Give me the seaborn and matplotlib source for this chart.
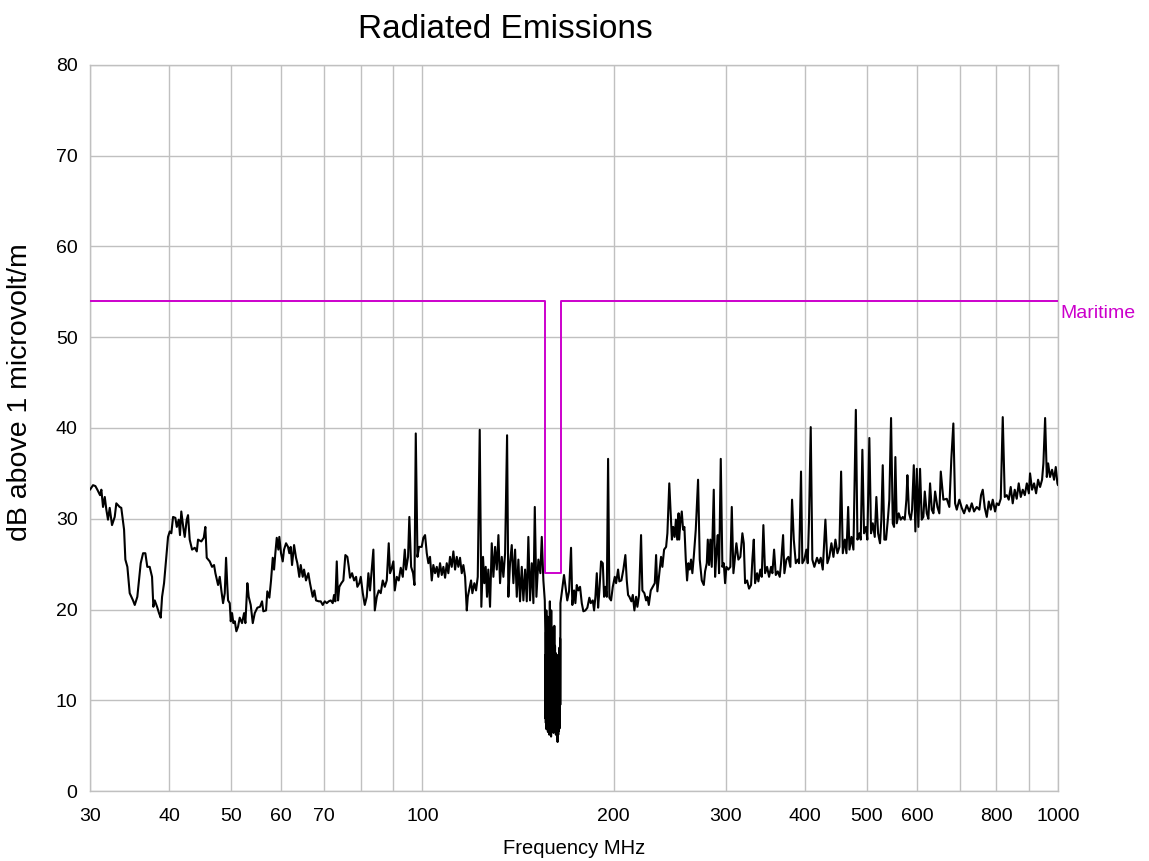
import numpy as np
import pandas as pd
import matplotlib
matplotlib.use("Agg")
import matplotlib.pyplot as plt
import seaborn as sns
from matplotlib.ticker import FixedLocator, NullFormatter, FixedFormatter

# ---------------- data ----------------
# 30 - 100 MHz
freq_low = [30.0, 30.33, 30.59, 30.81, 31.11, 31.26, 31.45, 31.65, 31.83, 32.02, 32.22, 32.49,
            32.81, 33.00, 33.40, 33.60, 33.94, 34.10, 34.35, 34.64, 35.06, 35.28, 35.61, 35.79,
            36.05, 36.36, 36.66, 36.92, 37.24, 37.56, 37.74, 37.93, 38.25, 38.52, 38.76, 38.95,
            39.23, 39.56, 39.80, 40.05, 40.28, 40.53, 40.87, 41.08, 41.37, 41.56, 41.76, 42.07,
            42.28, 42.59, 42.79, 43.05, 43.42, 43.85, 44.17, 44.37, 44.90, 45.30, 45.56, 45.79,
            46.29, 46.68, 47.02, 47.25, 47.71, 48.00, 48.28, 48.58, 48.88, 49.11, 49.34, 49.47,
            49.77, 49.95, 50.19, 50.43, 50.69, 50.98, 51.29, 51.60, 52.04, 52.42, 52.67, 53.05,
            53.31, 53.70, 54.10, 54.49, 55.01, 55.54, 55.95, 56.21, 56.77, 57.03, 57.45, 57.80,
            58.16, 58.44, 58.71, 59.01, 59.35, 59.56, 59.93, 60.30, 60.59, 61.03, 61.47, 61.76,
            62.07, 62.37, 62.83, 63.28, 63.58, 64.03, 64.36, 64.83, 65.14, 65.61, 66.16, 66.56,
            67.22, 67.62, 68.04, 68.70, 69.20, 69.71, 70.22, 70.73, 71.24, 71.75, 72.27, 72.62,
            72.96, 73.34, 73.68, 74.03, 74.57, 75.11, 75.66, 76.21, 76.60, 76.95, 77.52, 78.09,
            78.65, 79.02, 79.59, 80.00, 80.59, 81.17, 81.76, 82.24, 82.73, 83.25, 83.74, 84.17,
            84.78, 85.39, 86.00, 86.63, 87.27, 87.90, 88.53, 88.94, 89.37, 90.03, 90.49, 91.15,
            91.80, 92.47, 93.15, 93.83, 94.27, 94.95, 95.39, 96.01, 96.69, 97.18, 97.64, 98.24,
            98.80, 99.77]
level_low = [33.2, 33.7, 33.6, 33.2, 32.6, 33.2, 31.3, 32.4, 31.0, 29.9, 31.2, 29.3,
             30.2, 31.7, 31.3, 31.2, 28.8, 25.5, 24.7, 21.8, 21.0, 20.5, 21.4, 22.9,
             25.1, 26.2, 26.2, 24.7, 24.7, 23.6, 20.3, 21.0, 20.3, 19.6, 19.1, 21.4,
             22.9, 25.8, 28.0, 28.6, 28.4, 30.2, 30.1, 29.1, 29.9, 28.2, 30.8, 29.0,
             28.0, 29.9, 30.4, 27.7, 26.6, 26.8, 26.4, 27.7, 27.5, 27.9, 29.1, 25.7,
             25.3, 24.7, 24.9, 24.0, 22.7, 23.6, 22.1, 20.7, 21.8, 25.7, 22.5, 21.0,
             20.7, 18.7, 19.6, 18.5, 18.7, 17.6, 18.1, 19.1, 18.5, 19.6, 18.5, 22.9,
             21.4, 20.5, 18.5, 19.6, 20.2, 20.3, 20.9, 19.8, 19.9, 22.0, 21.3, 23.2,
             25.7, 24.4, 26.2, 27.9, 26.6, 28.0, 26.2, 25.3, 26.6, 27.3, 26.9, 26.2,
             26.9, 24.9, 27.1, 25.7, 25.1, 23.6, 24.9, 23.6, 24.4, 23.2, 24.0, 22.9,
             21.4, 22.1, 21.0, 20.9, 20.9, 20.5, 20.9, 20.7, 20.9, 21.0, 20.7, 21.6,
             20.9, 25.3, 21.0, 22.5, 22.9, 23.2, 26.0, 25.8, 24.7, 23.5, 24.0, 23.2,
             23.6, 22.5, 22.9, 23.6, 21.8, 20.5, 21.4, 24.0, 22.1, 24.4, 26.6, 19.9,
             21.4, 22.1, 21.8, 23.2, 22.5, 23.2, 27.3, 24.0, 24.4, 25.3, 22.1, 23.6,
             23.2, 24.6, 23.6, 26.6, 24.4, 25.8, 30.2, 24.7, 24.0, 22.7, 39.4, 25.8,
             26.9, 26.9]

# 100 - 156 MHz
freq_mid = [100.36, 100.98, 101.61, 102.20, 102.81, 103.46, 104.06, 104.71, 105.36, 105.96,
            106.61, 107.28, 107.91, 108.58, 109.24, 109.87, 110.54, 111.23, 111.89, 112.58,
            113.27, 113.93, 114.62, 115.34, 116.02, 116.74, 117.46, 117.89, 118.43, 119.29,
            119.86, 120.73, 121.48, 122.22, 123.10, 123.82, 124.57, 125.16, 125.80, 126.39,
            126.98, 127.78, 128.58, 129.34, 130.14, 130.94, 131.72, 132.50, 133.33, 134.11,
            134.94, 135.92, 136.55, 137.38, 138.24, 139.06, 139.92, 140.78, 141.60, 142.45,
            143.35, 144.19, 145.08, 145.97, 146.81, 147.71, 148.64, 149.51, 150.27, 151.15,
            152.23, 153.33, 154.12, 155.02, 155.81]
level_mid = [27.9, 28.2, 26.2, 25.1, 25.8, 23.2, 24.9, 24.0, 24.7, 23.6,
             25.1, 23.8, 24.7, 23.5, 25.1, 24.0, 25.8, 24.7, 26.4, 24.4,
             25.8, 24.7, 25.7, 24.0, 24.9, 23.6, 19.9, 21.4, 22.1, 23.2,
             21.8, 22.9, 22.1, 23.6, 39.8, 20.3, 25.8, 22.9, 24.7, 21.4,
             24.4, 20.3, 27.3, 23.6, 26.9, 24.4, 28.2, 22.9, 25.8, 23.6,
             26.2, 39.2, 21.4, 25.1, 27.1, 22.9, 26.6, 21.4, 25.5, 20.9,
             24.7, 21.0, 24.4, 20.9, 28.0, 21.0, 25.1, 20.7, 31.3, 21.4,
             25.5, 24.0, 28.0, 23.2, 21.0]

# 156 - 165 MHz maritime band (finely scanned)
freq_notch = [156.1, 156.2, 156.3, 156.4, 156.5, 156.6, 156.7, 156.8, 156.9, 157.0,
              157.1, 157.2, 157.3, 157.4, 157.5, 157.6, 157.7, 157.8, 157.9, 158.0,
              158.1, 158.2, 158.3, 158.4, 158.5, 158.6, 158.7, 158.8, 158.9, 159.0,
              159.1, 159.2, 159.3, 159.4, 159.5, 159.6, 159.7, 159.8, 159.9, 160.0,
              160.1, 160.2, 160.3, 160.4, 160.5, 160.6, 160.7, 160.8, 160.9, 161.0,
              161.1, 161.2, 161.3, 161.4, 161.5, 161.6, 161.7, 161.8, 161.9, 162.0,
              162.1, 162.2, 162.3, 162.4, 162.5, 162.6, 162.7, 162.8, 162.9, 163.0,
              163.1, 163.2, 163.3, 163.4, 163.5, 163.6, 163.7, 163.8, 163.9, 164.0,
              164.1, 164.2, 164.3, 164.4, 164.5, 164.6, 164.7, 164.8, 164.9]
level_notch = [17.7, 8.0, 15.0, 7.5, 17.5, 9.0, 19.9, 6.8, 14.0, 8.5,
               18.0, 7.2, 16.0, 9.5, 19.2, 6.5, 15.5, 8.0, 17.0, 7.0,
               12.5, 8.8, 18.5, 6.2, 16.0, 7.5, 20.9, 9.0, 14.5, 6.8,
               17.5, 8.2, 15.0, 6.0, 19.9, 7.8, 13.5, 9.2, 16.5, 6.6,
               18.0, 8.4, 14.0, 7.0, 17.7, 9.0, 15.5, 6.4, 16.8, 8.0,
               13.0, 7.2, 18.2, 8.8, 14.5, 6.5, 16.0, 7.6, 12.0, 9.0,
               15.2, 6.2, 13.8, 8.0, 14.8, 6.8, 12.5, 7.4, 13.6, 5.8,
               14.2, 5.4, 12.8, 7.0, 15.0, 6.2, 13.2, 8.0, 14.5, 6.6,
               12.6, 7.8, 15.8, 6.9, 13.4, 8.5, 16.8, 9.5, 20.7]

# 165 - 200 MHz
freq_upper = [167.05, 168.25, 169.03, 170.13, 171.36, 172.17, 173.25, 174.07, 174.95, 175.97,
              177.04, 178.15, 179.19, 180.50, 181.80, 183.11, 184.04, 185.40, 186.28, 187.17,
              188.12, 189.01, 189.89, 191.04, 192.24, 193.15, 194.07, 195.05, 195.97, 196.89,
              198.09, 199.33]
level_upper = [23.8, 22.1, 21.0, 22.0, 26.8, 20.5, 22.1, 20.7, 22.7, 22.1,
               22.5, 20.7, 19.8, 19.9, 20.2, 21.3, 20.7, 21.0, 19.9, 21.4,
               24.0, 20.2, 22.1, 25.3, 25.1, 21.4, 22.5, 21.4, 36.6, 21.3,
               21.0, 22.5]

# 200 - 1000 MHz
freq_high = [200.79, 201.74, 203.19, 204.13, 205.62, 207.12, 208.63, 209.69, 210.69, 211.67,
             213.22, 214.31, 215.56, 216.89, 217.91, 219.24, 220.83, 221.88, 223.51, 224.89,
             225.95, 227.09, 228.73, 230.41, 232.09, 233.19, 234.28, 235.97, 237.43, 238.57,
             240.05, 241.80, 242.94, 244.6, 246.93, 248.10, 249.37, 250.55, 251.72, 252.99,
             253.44, 254.61, 255.92, 257.14, 258.36, 259.67, 260.89, 262.11, 263.42, 264.67,
             265.93, 267.29, 269.24, 271.48, 273.14, 275.15, 277.17, 278.48, 280.20, 281.21,
             282.52, 283.84, 285.28, 287.37, 288.76, 290.12, 291.58, 292.94, 294.75, 296.48,
             298.00, 299.41, 300.82, 302.98, 305.16, 306.75, 308.57, 310.45, 311.91, 314.17,
             316.43, 318.76, 320.39, 321.90, 324.23, 326.56, 328.94, 330.51, 332.20, 333.77,
             336.19, 337.76, 340.19, 341.94, 343.95, 346.08, 348.59, 351.10, 353.65, 355.34,
             357.55, 359.76, 362.36, 364.96, 366.70, 369.40, 371.15, 373.85, 376.55, 379.25,
             381.6, 384.0, 386.8, 389.6, 391.4, 394.2, 396.1, 399.0, 401.9, 403.9,
             405.8, 408.3, 410.7, 413.7, 417.7, 420.7, 423.4, 426.5, 430.6, 433.7,
             436.8, 440.1, 443.3, 446.5, 449.8, 453.0, 455.8, 458.6, 462.0, 464.7,
             467.6, 469.8, 473.2, 476.6, 480.8, 483.6, 487.0, 489.4, 492.3, 495.3,
             498.9, 501.2, 504.9, 508.0, 511.2, 514.9, 517.9, 521.1, 524.8, 527.3,
             530.0, 533.1, 536.4, 540.3, 542.8, 546.2, 549.6, 552.2, 554.8, 557.6,
             561.6, 565.7, 569.9, 574.0, 577.4, 579.5, 583.0, 586.6, 589.4, 593.1,
             596.5, 599.6, 603.0, 606.7, 610.4, 614.0, 617.2, 621.6, 625.3, 629.1,
             633.0, 636.8, 640.7, 646.1, 650.6, 654.0, 660.2, 668.4, 674.6, 679.5,
             684.5, 688.8, 693.0, 699.5, 705.6, 711.6, 718.6, 725.4, 731.7, 737.8,
             745.0, 752.1, 756.7, 761.4, 767.0, 772.6, 778.2, 783.8, 789.5, 796.1,
             801.0, 806.8, 812.7, 818.6, 824.6, 830.6, 836.6, 842.6, 848.7, 854.9,
             861.1, 867.4, 873.8, 880.2, 886.7, 893.2, 899.8, 903.7, 910.3, 917.0,
             923.7, 930.4, 937.1, 943.9, 948.5, 954.4, 960.3, 964.9, 971.6, 978.7,
             985.8, 991.9, 997.8, 1000.0]
level_high = [23.6, 22.9, 24.4, 23.1, 23.2, 24.4, 26.0, 23.2, 21.6, 21.4,
              20.9, 21.6, 19.9, 21.4, 20.3, 21.6, 28.2, 22.1, 21.8, 21.0,
              21.4, 20.5, 22.1, 22.5, 22.9, 26.0, 22.0, 24.0, 25.8, 24.7,
              26.6, 26.9, 28.4, 33.9, 27.7, 29.1, 28.0, 29.9, 27.7, 30.6,
              27.7, 29.5, 30.8, 28.8, 29.1, 25.5, 23.2, 25.1, 24.4, 25.5,
              24.0, 25.8, 28.8, 34.3, 25.5, 23.2, 22.7, 24.2, 25.1, 27.7,
              24.9, 27.7, 24.7, 33.2, 23.6, 26.2, 28.2, 24.0, 36.6, 24.7,
              25.1, 22.9, 24.7, 24.4, 24.7, 31.3, 24.0, 25.8, 27.3, 25.5,
              25.8, 28.4, 27.3, 22.9, 23.2, 22.3, 22.7, 25.5, 27.7, 22.9,
              24.0, 23.1, 24.4, 23.6, 29.3, 24.0, 24.7, 23.6, 24.7, 24.0,
              26.6, 23.8, 24.2, 23.6, 25.1, 28.2, 24.0, 25.5, 25.8, 24.7,
              32.1, 27.7, 25.1, 25.5, 25.1, 35.2, 25.1, 25.5, 26.6, 25.1,
              29.9, 40.1, 25.5, 24.7, 25.7, 25.1, 25.7, 24.4, 29.9, 25.1,
              25.8, 27.3, 25.8, 27.7, 26.2, 26.9, 35.2, 26.2, 27.7, 26.2,
              31.3, 26.6, 28.0, 26.6, 42.0, 27.7, 28.4, 27.7, 37.6, 28.4,
              29.1, 27.7, 38.9, 28.4, 29.5, 28.0, 32.4, 28.4, 27.3, 29.9,
              35.9, 27.7, 27.7, 30.2, 32.1, 41.1, 29.5, 29.1, 36.8, 29.5,
              30.6, 29.9, 30.2, 29.9, 32.1, 34.8, 30.6, 29.9, 31.0, 35.9,
              28.6, 35.5, 29.1, 35.5, 29.9, 30.2, 33.0, 30.6, 30.0, 33.9,
              31.0, 30.6, 33.0, 31.3, 30.6, 35.2, 32.1, 32.2, 31.3, 36.6,
              40.5, 31.7, 31.0, 32.1, 31.2, 30.6, 31.5, 30.8, 31.7, 30.8,
              31.3, 31.0, 32.6, 33.2, 31.2, 30.2, 31.9, 31.0, 32.1, 30.8,
              31.7, 31.5, 32.2, 41.2, 32.4, 32.6, 32.1, 33.5, 31.7, 33.2,
              32.2, 33.9, 32.4, 33.2, 32.6, 33.9, 32.8, 35.0, 33.2, 33.9,
              32.8, 34.3, 33.5, 34.3, 36.1, 41.1, 34.6, 36.1, 34.6, 35.4,
              34.3, 35.7, 33.9, 33.7]

# Maritime limit line (dB above 1 microvolt/m)
limit_freq = [30, 156, 156, 165, 165, 1000]
limit_level = [54, 54, 24, 24, 54, 54]

x_tick_values = [30, 40, 50, 60, 70, 100, 200, 300, 400, 500, 600, 800, 1000]
x_grid_values = [30, 40, 50, 60, 70, 80, 90, 100, 200, 300, 400, 500, 600, 700, 800, 900, 1000]
y_tick_values = [0, 10, 20, 30, 40, 50, 60, 70, 80]

# ---------------- plotting ----------------
sns.set_theme(style="white")
plt.rcParams['font.family'] = ['Liberation Sans', 'DejaVu Sans']
plt.rcParams['text.color'] = 'black'
plt.rcParams['axes.labelcolor'] = 'black'

trace = pd.DataFrame({
    "freq": freq_low + freq_mid + freq_notch + freq_upper + freq_high,
    "level": level_low + level_mid + level_notch + level_upper + level_high,
})
limit = pd.DataFrame({"freq": limit_freq, "level": limit_level})

fig = plt.figure(figsize=(11.49, 8.61), dpi=100)
ax = fig.add_axes([90 / 1149, 1 - 791 / 861, (1058 - 90) / 1149, (791 - 65) / 861])

grid_color = "#c0c0c0"
for g in x_grid_values:
    ax.axvline(g, color=grid_color, lw=1.0, zorder=0)
for g in y_tick_values:
    ax.axhline(g, color=grid_color, lw=1.0, zorder=0)

sns.lineplot(data=trace, x="freq", y="level", ax=ax, color="black", lw=1.5,
             estimator=None, sort=False, zorder=3)
sns.lineplot(data=limit, x="freq", y="level", ax=ax, color="#cc00cc", lw=1.4,
             estimator=None, sort=False, zorder=4)

ax.set_xscale("log")
ax.set_xlim(30, 1000)
ax.set_ylim(0, 80)
ax.xaxis.set_major_locator(FixedLocator(x_tick_values))
ax.xaxis.set_major_formatter(FixedFormatter([str(v) for v in x_tick_values]))
ax.xaxis.set_minor_locator(FixedLocator([]))
ax.xaxis.set_minor_formatter(NullFormatter())
ax.set_yticks(y_tick_values)
ax.tick_params(axis="x", length=0, pad=12, labelsize=14, colors="black")
ax.tick_params(axis="y", length=0, pad=9, labelsize=14, colors="black")

for s in ax.spines.values():
    s.set_color(grid_color)
    s.set_linewidth(1.0)

ax.set_xlabel("Frequency MHz", fontsize=14.5, labelpad=10)
ax.set_ylabel("dB above 1 microvolt/m", fontsize=20.5, labelpad=12)
ax.yaxis.set_label_coords(-0.059, 0.55)
fig.text(505 / 1149, 1 - 29 / 861, "Radiated Emissions", fontsize=24,
         ha="center", va="center")
ax.text(1.002, 52.6, "Maritime", transform=ax.get_yaxis_transform(),
        color="#cc00cc", fontsize=14, ha="left", va="center", clip_on=False)

fig.savefig("out.png", dpi=100)
